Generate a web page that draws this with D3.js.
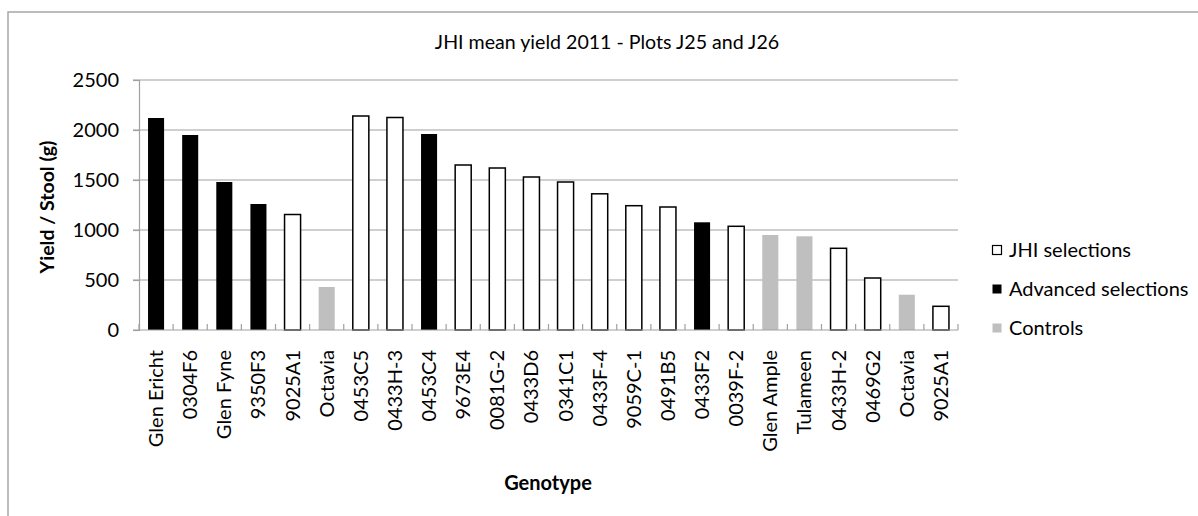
<!DOCTYPE html>
<html>
<head>
<meta charset="utf-8">
<script src="https://cdn.jsdelivr.net/npm/d3@7"></script>
<style>
  html, body { margin: 0; padding: 0; background: #fff; }
  svg { display: block; }
  text { font-family: Lato, "Open Sans", sans-serif; fill: #000; }
</style>
</head>
<body>
<script>
const categories = ["Glen Ericht","0304F6","Glen Fyne","9350F3","9025A1","Octavia","0453C5","0433H-3","0453C4","9673E4","0081G-2","0433D6","0341C1","0433F-4","9059C-1","0491B5","0433F2","0039F-2","Glen Ample","Tulameen","0433H-2","0469G2","Octavia","9025A1"];
const jhiSelections      = [null,null,null,null,1155,null,2140,2125,null,1650,1620,1530,1480,1362,1243,1230,null,1037,null,null,817,520,null,237];
const advancedSelections = [2120,1950,1480,1260,null,null,null,null,1960,null,null,null,null,null,null,null,1077,null,null,null,null,null,null,null];
const controls           = [null,null,null,null,null,430,null,null,null,null,null,null,null,null,null,null,null,null,950,937,null,null,353,null];
const yTicks = [0,500,1000,1500,2000,2500];
const seriesNames = ["JHI selections","Advanced selections","Controls"];
const titleText = "JHI mean yield 2011 - Plots J25 and J26";
const yTitle = "Yield / Stool (g)";
const xTitle = "Genotype";

const W = 1198, H = 516;
const svg = d3.select("body").append("svg").attr("width", W).attr("height", H);
svg.append("rect").attr("width", W).attr("height", H).attr("fill", "#fff");

// chart border
svg.append("rect").attr("x", 8).attr("y", 12).attr("width", 1200).attr("height", 520)
  .attr("fill", "none").attr("stroke", "#a6a6a6").attr("stroke-width", 1.5);

const plotL = 139, plotR = 958, plotT = 80, plotB = 330;
const idx = d3.range(categories.length);
const x = d3.scaleBand().domain(idx).range([plotL, plotR]).padding(0);
const y = d3.scaleLinear().domain([0, 2500]).range([plotB, plotT]);
const barW = x.bandwidth() * 0.47;

// gridlines
svg.append("g").selectAll("line").data(yTicks.filter(d => d > 0)).join("line")
  .attr("x1", plotL - 6).attr("x2", plotR).attr("y1", d => y(d)).attr("y2", d => y(d))
  .attr("stroke", "#a0a0a0").attr("stroke-width", 1.2);

// y axis
const yAxis = d3.axisLeft(y).tickValues(yTicks).tickFormat(d3.format("d")).tickSize(6).tickPadding(14);
const gy = svg.append("g").attr("transform", `translate(${plotL},0)`).call(yAxis);
gy.select(".domain").attr("stroke", "#a0a0a0").attr("stroke-width", 1.2);
gy.selectAll(".tick line").attr("stroke", "#a0a0a0").attr("stroke-width", 1.2);
gy.selectAll(".tick text").style("font-family", "Lato, sans-serif").style("font-size", "20px").attr("fill", "#000");

// bars
const seriesList = [
  { name: seriesNames[0], values: jhiSelections, fill: "#ffffff", stroke: "#000" },
  { name: seriesNames[1], values: advancedSelections, fill: "#000000", stroke: "none" },
  { name: seriesNames[2], values: controls, fill: "#bfbfbf", stroke: "none" }
];
seriesList.forEach(s => {
  svg.append("g").selectAll("rect").data(idx.filter(i => s.values[i] != null)).join("rect")
    .attr("x", i => x(i) + (x.bandwidth() - barW) / 2)
    .attr("y", i => y(s.values[i]))
    .attr("width", barW)
    .attr("height", i => y(0) - y(s.values[i]))
    .attr("fill", s.fill)
    .attr("stroke", s.stroke)
    .attr("stroke-width", 1.5);
});

// x axis
const gx = svg.append("g").attr("transform", `translate(0,${plotB})`);
gx.append("line").attr("x1", plotL - 6).attr("x2", plotR).attr("stroke", "#a0a0a0").attr("stroke-width", 1.2);
gx.selectAll("line.tk").data(d3.range(categories.length + 1)).join("line").attr("class", "tk")
  .attr("x1", i => plotL + i * x.step()).attr("x2", i => plotL + i * x.step())
  .attr("y1", 0).attr("y2", -6).attr("stroke", "#a0a0a0").attr("stroke-width", 1.2);
gx.selectAll("text").data(idx).join("text")
  .attr("transform", i => `translate(${x(i) + x.bandwidth() / 2},20) rotate(-90)`)
  .attr("text-anchor", "end").attr("dy", "0.35em")
  .style("font-size", "20px")
  .text(i => categories[i]);

// titles
svg.append("text").attr("x", 607).attr("y", 42).attr("text-anchor", "middle")
  .attr("dy", "0.35em").style("font-size", "19.6px").style("font-weight", 400).text(titleText);
svg.append("text").attr("transform", "translate(47,207) rotate(-90)").attr("text-anchor", "middle")
  .attr("dy", "0.35em").style("font-size", "19.5px").style("font-weight", 700).text(yTitle);
svg.append("text").attr("x", 548).attr("y", 483).attr("text-anchor", "middle")
  .attr("dy", "0.35em").style("font-size", "20px").style("font-weight", 700).text(xTitle);

// legend
const legY = [250, 289, 328];
const lg = svg.append("g");
seriesList.forEach((s, k) => {
  lg.append("rect").attr("x", 992.5).attr("y", legY[k] - 4.5).attr("width", 9).attr("height", 9)
    .attr("fill", s.fill).attr("stroke", s.stroke === "none" ? "none" : "#000").attr("stroke-width", 1.2);
  lg.append("text").attr("x", 1009).attr("y", legY[k]).attr("dy", "0.35em")
    .style("font-size", "20px").text(s.name);
});
</script>
</body>
</html>
